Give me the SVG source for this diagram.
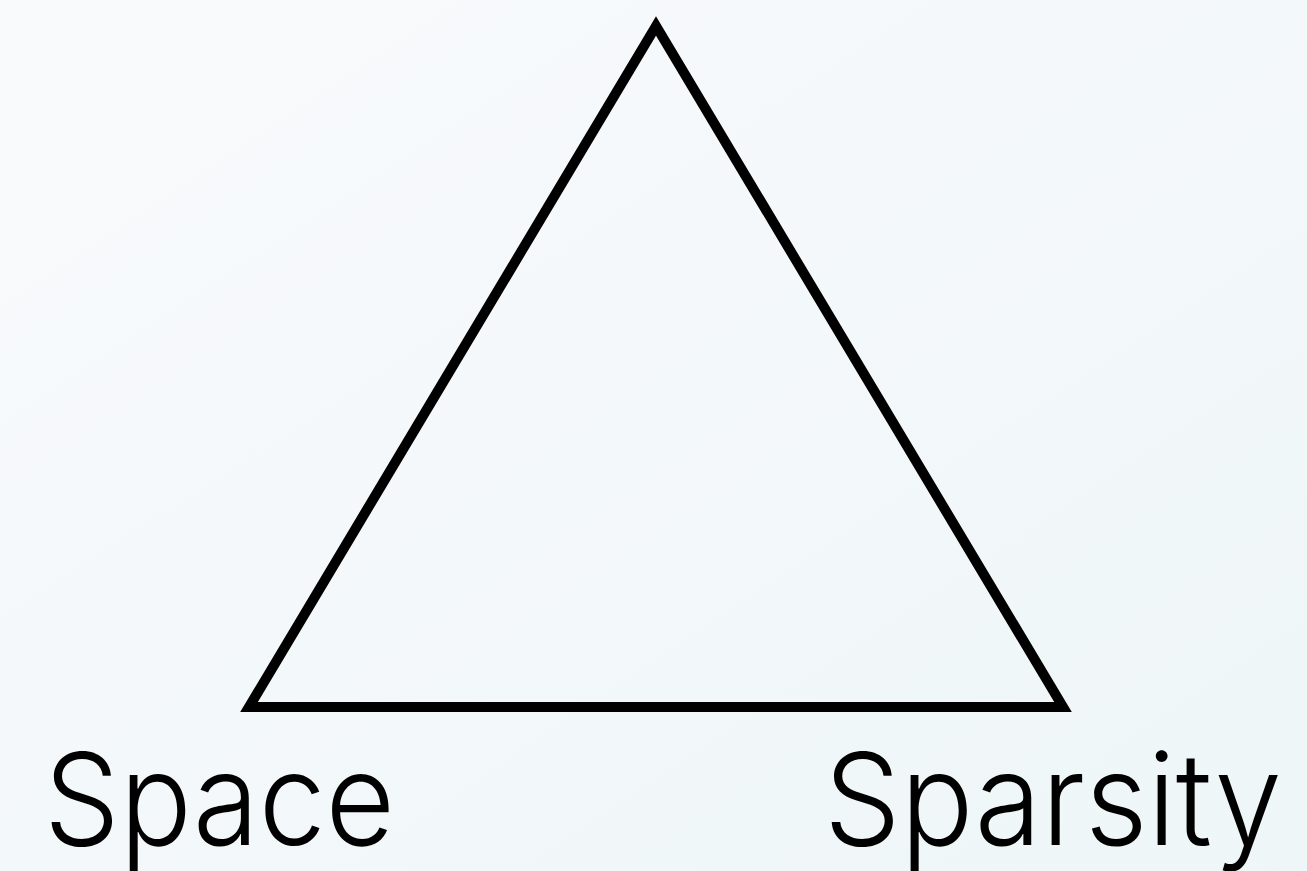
<svg xmlns="http://www.w3.org/2000/svg" width="1307" height="871" viewBox="0 0 1307 871">
<defs>
<linearGradient id="bg" x1="0" y1="0" x2="1" y2="1">
<stop offset="0" stop-color="#f9fafc"/>
<stop offset="1" stop-color="#eef6f8"/>
</linearGradient>
<style>
.lbl{font-family:Inter,"Liberation Sans",sans-serif;font-size:128px;font-weight:300;fill:#000}
.tri{fill:none;stroke:#000;stroke-width:10;stroke-linejoin:miter;stroke-miterlimit:10}
</style>
</defs>
<rect width="1307" height="871" fill="url(#bg)"/>
<g id="triangle">
<polygon class="tri" points="656,26 249,707 1063,707"/>
</g>
<g id="connectors"/>
<g id="label-space">
<text class="lbl" x="44" y="845" textLength="351" lengthAdjust="spacingAndGlyphs">Space</text>
</g>
<g id="label-sparsity">
<text class="lbl" x="824" y="845" textLength="458" lengthAdjust="spacingAndGlyphs">Sparsity</text>
</g>
</svg>
